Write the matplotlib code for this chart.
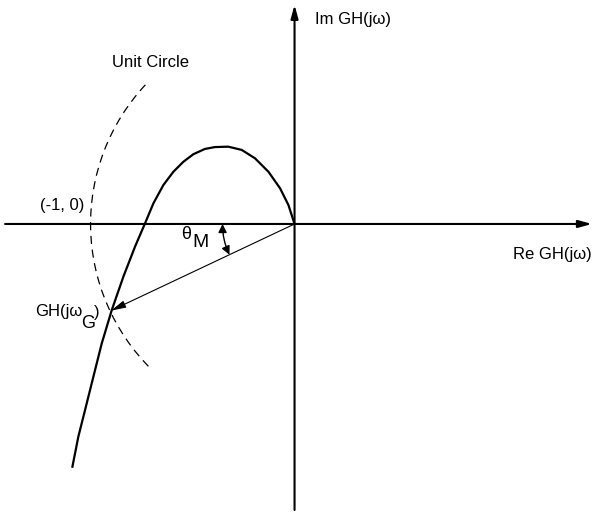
import math
import matplotlib
matplotlib.use("Agg")
import matplotlib.pyplot as plt
from matplotlib.patches import Arc, FancyArrowPatch

plt.rcParams['font.family'] = ['Liberation Sans', 'DejaVu Sans']

# Nyquist curve GH(jw) (unit circle radius = 1)
curve_re = [0.0, -0.030, -0.071, -0.128, -0.194, -0.259, -0.325, -0.390, -0.439,
            -0.496, -0.545, -0.594, -0.643, -0.692, -0.733, -0.782, -0.839, -0.896,
            -0.945, -0.986, -1.027, -1.060, -1.089]
curve_im = [0.0, 0.093, 0.175, 0.256, 0.322, 0.363, 0.379, 0.377, 0.368,
            0.342, 0.305, 0.256, 0.191, 0.101, 0.003, -0.111, -0.258, -0.422,
            -0.585, -0.748, -0.912, -1.043, -1.190]

# point where |GH| = 1 and phase margin arc
gh_point = (-0.900, -0.425)
circle_from, circle_to = 137, 225.4   # degrees of the dashed unit circle piece
margin_radius = 0.353

fig = plt.figure(figsize=(5.95, 5.12), dpi=100)
ax = fig.add_axes([0, 0, 1, 1])
ax.set_xlim(-1.444, 1.473)
ax.set_ylim(-1.412, 1.098)
ax.axis('off')

# axes with arrows
ax.annotate('', xy=(1.458, 0), xytext=(-1.419, 0),
            arrowprops=dict(arrowstyle='-|>,head_length=0.8,head_width=0.22', lw=1.5, color='black',
                            shrinkA=0, shrinkB=0))
ax.annotate('', xy=(0, 1.074), xytext=(0, -1.402),
            arrowprops=dict(arrowstyle='-|>,head_length=0.8,head_width=0.22', lw=1.5, color='black',
                            shrinkA=0, shrinkB=0))

# unit circle
circ = Arc((0, 0), 2, 2, theta1=circle_from, theta2=circle_to, color='black', lw=0.9)
circ.set_linestyle((0, (6.5, 4.5)))
ax.add_patch(circ)

# the curve
ax.plot(curve_re, curve_im, color='black', lw=1.6, solid_joinstyle='round')

# vector to GH(jwG)
ax.annotate('', xy=gh_point, xytext=(0, 0),
            arrowprops=dict(arrowstyle='-|>,head_length=0.9,head_width=0.22', lw=0.8, color='black',
                            shrinkA=0, shrinkB=0))

# phase margin arc
a2 = math.atan2(gh_point[1], gh_point[0])
p1 = (-margin_radius, 0)
p2 = (margin_radius * math.cos(a2), margin_radius * math.sin(a2))
arc = FancyArrowPatch(p1, p2, connectionstyle='arc3,rad=0.11',
                      arrowstyle='<|-|>,head_length=5,head_width=2.5', lw=1.0, color='black',
                      shrinkA=0, shrinkB=0)
ax.add_patch(arc)

fs = 12
ax.text(-0.708, 0.794, 'Unit Circle', ha='center', va='center', fontsize=fs)
ax.text(-1.137, 0.093, '(-1, 0)', ha='center', va='center', fontsize=fs)
ax.text(0.100, 1.0, 'Im GH(jω)', ha='left', va='center', fontsize=fs)
ax.text(1.071, -0.152, 'Re GH(jω)', ha='left', va='center', fontsize=fs)
ax.text(-1.040, -0.431, 'GH(jω', ha='right', va='center', fontsize=fs)
ax.text(-1.012, -0.488, 'G', ha='center', va='center', fontsize=fs + 1)
ax.text(-0.985, -0.436, ')', ha='left', va='center', fontsize=fs)
ax.text(-0.532, -0.054, 'θ', ha='center', va='center', fontsize=fs + 1)
ax.text(-0.463, -0.093, 'M', ha='center', va='center', fontsize=fs + 2)

fig.savefig('out.png', dpi=100)
